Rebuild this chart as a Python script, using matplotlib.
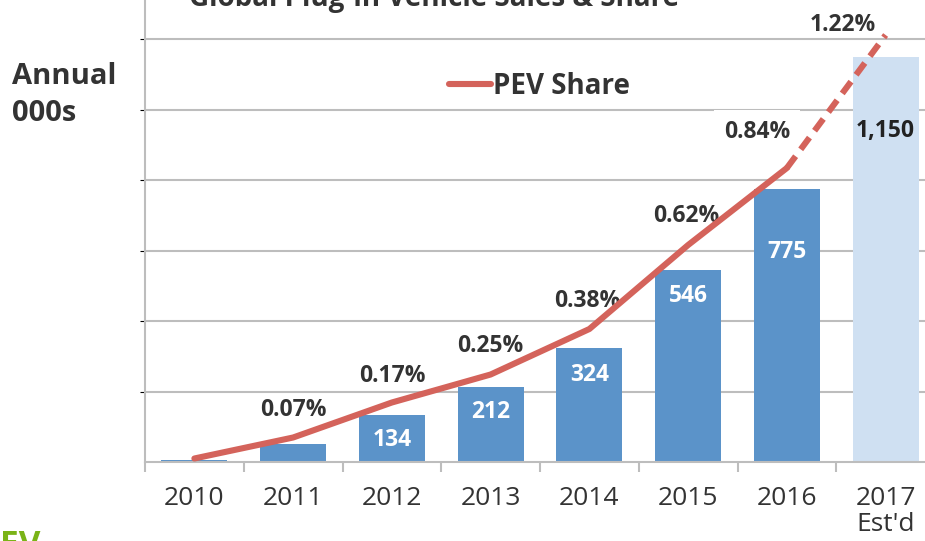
import numpy as np
import matplotlib
matplotlib.use("Agg")
import matplotlib.pyplot as plt

plt.rcParams['font.family'] = ['Open Sans', 'DejaVu Sans']

# data
years = ["2010", "2011", "2012", "2013", "2014", "2015", "2016", "2017\nEst'd"]
sales = [7, 50, 134, 212, 324, 546, 775, 1150]          # annual sales, 000s
share = [0.01, 0.07, 0.17, 0.25, 0.38, 0.62, 0.84, 1.22]  # PEV share, %
show_sales_label = [False, False, True, True, True, True, True, True]
show_share_label = [False, True, True, True, True, True, True, True]

# styling
bar_blue = "#5b93c9"
bar_light = "#cfe0f2"
line_red = "#d4635b"
text_dark = "#333333"
grid_gray = "#bdbdbd"
label_drop_px = [0, 0, 25, 25, 27, 26, 63, 74]
share_offset_px = [(0, 0), (0, 27), (0, 27), (0, 29), (-2, 28), (-2, 29), (-30, 36), (-43, 10)]

W, H = 925, 541
fig = plt.figure(figsize=(W / 100, H / 100), dpi=100)
ax = fig.add_axes([145 / W, (H - 462) / H, (935 - 145) / W, 462 / H])

x = np.arange(len(years))
colors = [bar_blue] * (len(years) - 1) + [bar_light]
ax.bar(x, sales, width=0.67, color=colors, zorder=2)

ax.set_xlim(-0.5, len(years) - 0.5)
ax.set_ylim(0, 1200 * 462 / 423)
ax.set_yticks(np.arange(200, 1201, 200))
ax.yaxis.grid(True, color=grid_gray, lw=1.5)
ax.set_axisbelow(True)
ax.tick_params(axis='y', left=False, labelleft=False)

ax.set_xticks(x)
ax.set_xticklabels(years, fontsize=19, color=text_dark, linespacing=1.05)
ax.tick_params(axis='x', which='major', length=0, pad=17)
ax.set_xticks(np.arange(-0.5, len(years), 1), minor=True)
ax.tick_params(axis='x', which='minor', length=7.5, width=1.5, color=grid_gray, direction='out')

for s in ['top', 'right']:
    ax.spines[s].set_visible(False)
for s in ['left', 'bottom']:
    ax.spines[s].set_color(grid_gray)
    ax.spines[s].set_linewidth(1.5)

# value labels inside bars
for i, v in enumerate(sales):
    if not show_sales_label[i]:
        continue
    c = "white" if i < len(sales) - 1 else "#222222"
    ax.annotate(f"{v:,}", (i, v), xytext=(0, -label_drop_px[i]), textcoords='offset pixels',
                ha='center', va='center', fontsize=16.5, fontweight='bold', color=c, zorder=4)

# share line on second axis
ax2 = ax.twinx()
ax2.set_ylim(0, 462 / 350)
ax2.set_axis_off()
ax2.plot(x[:-1], share[:-1], color=line_red, lw=4.4, solid_capstyle='round',
         label="PEV Share", zorder=5)
ax2.plot(x[-2:], share[-2:], color=line_red, lw=4.4, linestyle=(0, (2.4, 1.4)), zorder=5)

for i, s in enumerate(share):
    if not show_share_label[i]:
        continue
    dx, dy = share_offset_px[i]
    # the 2016 label masks the gridline just above it
    box = dict(boxstyle='square,pad=0.42', fc='white', ec='none') if i == 6 else None
    ax2.annotate(f"{s:.2f}%", (i, s), xytext=(dx, dy), textcoords='offset pixels',
                 ha='center', va='center', fontsize=16.5, fontweight='bold', color=text_dark,
                 zorder=3, bbox=box)

leg = fig.legend(loc='center left', bbox_to_anchor=(449 / W, 1 - 86 / H), frameon=False,
                 handlelength=1.5, handletextpad=0.1, borderpad=0, borderaxespad=0,
                 prop=dict(size=20, weight='bold'))
for t in leg.get_texts():
    t.set_color(text_dark)

fig.text(12 / W, 1 - 62 / H, "Annual\n000s", ha='left', va='top', fontsize=21,
         fontweight='bold', color=text_dark, linespacing=1.35)
fig.text(434 / W, 1 - 6 / H, "Global Plug-in Vehicle Sales & Share", ha='center', va='baseline',
         fontsize=20, fontweight='bold', color=text_dark)
fig.text(0, 1 - 529 / H, "EV", ha='left', va='top', fontsize=24, fontweight='bold', color="#7ab317")

fig.savefig("out.png", dpi=100)
